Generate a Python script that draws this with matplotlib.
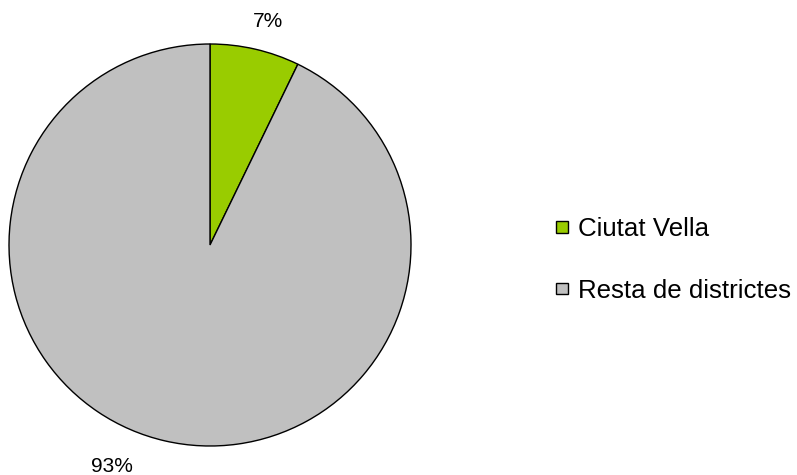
import matplotlib.pyplot as plt
from matplotlib.patches import Patch

plt.rcParams['font.family'] = ['Liberation Sans', 'DejaVu Sans']

# Data
districtes = ['Ciutat Vella', 'Resta de districtes']
valors = [7.2, 92.8]
colors = ['#99CC00', '#C0C0C0']

W, H = 797, 475
fig = plt.figure(figsize=(W / 100, H / 100), dpi=100, facecolor='white')

# pie axes covering the circle (centre ~ (210,245), radius ~201 px)
cx, cy, r = 210, 245, 201
ax = fig.add_axes([(cx - r) / W, (H - cy - r) / H, 2 * r / W, 2 * r / H])
wedges, texts = ax.pie(valors, colors=colors, startangle=90, counterclock=False,
                       labels=['%d%%' % round(v) for v in valors], labeldistance=1.15,
                       wedgeprops=dict(edgecolor='black', linewidth=1.0),
                       textprops=dict(fontsize=15, color='black'))
for t in texts:
    t.set_ha('center')
    t.set_va('center')
texts[0].set_position((0.29, 1.11))
texts[1].set_position((-0.49, -1.10))
ax.set_xlim(-1, 1)
ax.set_ylim(-1, 1)
ax.set_aspect('auto')

handles = [Patch(facecolor=c, edgecolor='black', linewidth=1.0) for c in colors]
fig.legend(handles, districtes, loc='center left', bbox_to_anchor=(556 / W, 1 - 260 / H),
           frameon=False, fontsize=18.6, handlelength=0.45, handleheight=0.33,
           handletextpad=0.4, labelspacing=1.45, borderpad=0, borderaxespad=0)

plt.savefig('out.png', dpi=100)
